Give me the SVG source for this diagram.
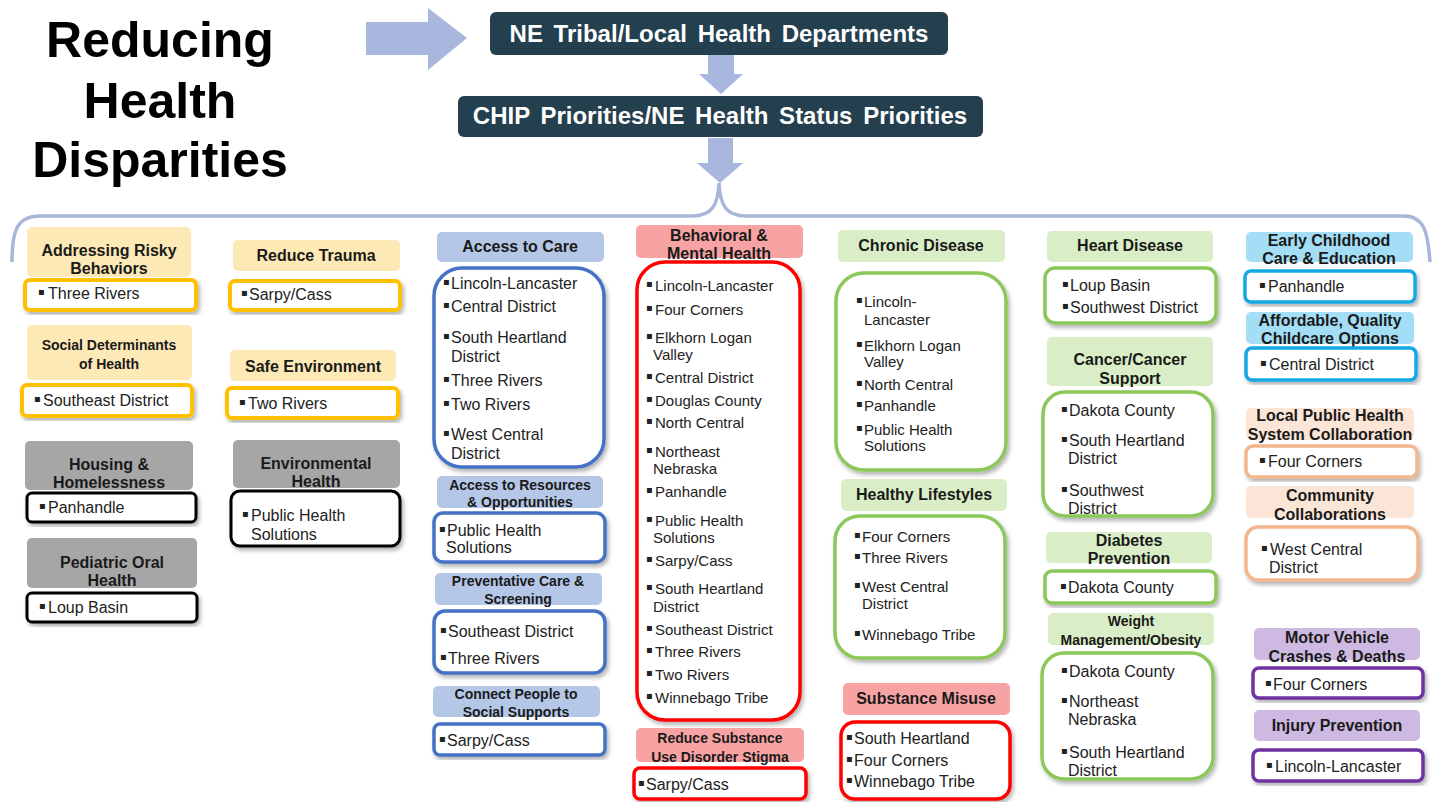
<svg xmlns="http://www.w3.org/2000/svg" width="1438" height="802" viewBox="0 0 1438 802">
<defs>
<filter id="sh" x="-10%" y="-10%" width="125%" height="125%"><feDropShadow dx="2" dy="3" stdDeviation="2" flood-color="#000" flood-opacity="0.3"/></filter>
<style>
text{font-family:"Liberation Sans",Arial,sans-serif}
.h{font-weight:bold;text-anchor:middle;fill:#1a1a1a;font-size:16px}
.hs{font-size:14px}
.i{fill:#222;font-size:16px}
.i15{font-size:15px}
.bl{fill:#222;font-size:10px;font-family:"DejaVu Sans",sans-serif;transform:translateY(-3px)}
.box{fill:#fff;filter:url(#sh)}
.yh{fill:#FDE9B6}.yb{stroke:#FFC000;stroke-width:4}
.gh{fill:#A6A6A6}.kb{stroke:#000;stroke-width:3}
.bh{fill:#B4C7E7}.bb{stroke:#4472C4;stroke-width:3.5}
.rh{fill:#F7A3A3}.rb{stroke:#FF0000;stroke-width:3.5}
.lh{fill:#D9EEC6}.lb{stroke:#8CC75A;stroke-width:3.5}
.ch{fill:#A3DDF6}.cb{stroke:#14A8E3;stroke-width:3.5}
.ph{fill:#FBE5D6}.pb{stroke:#F2B68E;stroke-width:3.5}
.vh{fill:#CDB9E1}.vb{stroke:#7030A0;stroke-width:3.5}
.dk{fill:#243F4E}
.dt{fill:#fff;font-weight:bold;font-size:24px;word-spacing:4px;text-anchor:middle}
.ar{fill:#A9B6DE}
</style>
</defs>
<rect width="1438" height="802" fill="#fff"/>

<g id="title">
<text x="160" y="57" font-size="50" font-weight="bold" text-anchor="middle" fill="#000">Reducing</text>
<text x="160" y="118" font-size="50" font-weight="bold" text-anchor="middle" fill="#000">Health</text>
<text x="160" y="177" font-size="50" font-weight="bold" text-anchor="middle" fill="#000">Disparities</text>
</g>

<g id="connectors">
<polygon class="ar" points="366,22 428,22 428,8 467,38 428,70 428,55 366,55"/>
<polygon class="ar" points="708,55 734,55 734,74 743,74 721,94 699,74 708,74"/>
<polygon class="ar" points="708,138 733,138 733,163 743,163 720,183 697,163 708,163"/>
<path d="M12,262 C12,232 16,216 40,216 L692,216 C712,216 718,205 719,183 C720,205 726,216 746,216 L1404,216 C1424,216 1428,232 1430,262" fill="none" stroke="#A9B6DA" stroke-width="3.5"/>
</g>

<g id="ne-tribal">
<rect class="dk" x="490" y="12" width="458" height="43" rx="6"/>
<text class="dt" x="719" y="42">NE Tribal/Local Health Departments</text>
</g>
<g id="chip">
<rect class="dk" x="458" y="96" width="525" height="41" rx="6"/>
<text class="dt" x="720" y="124">CHIP Priorities/NE Health Status Priorities</text>
</g>

<g id="risky">
<rect class="yh" x="27" y="227" width="164" height="50" rx="5"/>
<text class="h" x="109" y="256">Addressing Risky</text>
<text class="h" x="109" y="274">Behaviors</text>
<rect class="box yb" x="25" y="280" width="171" height="30" rx="5"/>
<text class="bl" x="38" y="298">▪</text><text class="i" x="48" y="299">Three Rivers</text>
</g>

<g id="social">
<rect class="yh" x="27" y="325" width="165" height="55" rx="5"/>
<text class="h hs" x="109" y="350">Social Determinants</text>
<text class="h hs" x="109" y="369">of Health</text>
<rect class="box yb" x="22" y="385" width="170" height="31" rx="5"/>
<text class="bl" x="34" y="405">▪</text><text class="i" x="43" y="406">Southeast District</text>
</g>

<g id="housing">
<rect class="gh" x="25" y="441" width="168" height="49" rx="5"/>
<text class="h" x="109" y="470">Housing &amp;</text>
<text class="h" x="109" y="488">Homelessness</text>
<rect class="box kb" x="27" y="493" width="169" height="29" rx="5"/>
<text class="bl" x="39" y="512">▪</text><text class="i" x="48" y="513">Panhandle</text>
</g>

<g id="oral">
<rect class="gh" x="27" y="538" width="170" height="50" rx="5"/>
<text class="h" x="112" y="568">Pediatric Oral</text>
<text class="h" x="112" y="586">Health</text>
<rect class="box kb" x="27" y="593" width="170" height="29" rx="5"/>
<text class="bl" x="39" y="612">▪</text><text class="i" x="48" y="613">Loup Basin</text>
</g>

<g id="trauma">
<rect class="yh" x="233" y="240" width="167" height="31" rx="5"/>
<text class="h" x="316" y="261">Reduce Trauma</text>
<rect class="box yb" x="230" y="281" width="170" height="29" rx="5"/>
<text class="bl" x="241" y="299">▪</text><text class="i" x="249" y="300">Sarpy/Cass</text>
</g>

<g id="safe">
<rect class="yh" x="230" y="350" width="166" height="31" rx="5"/>
<text class="h" x="313" y="372">Safe Environment</text>
<rect class="box yb" x="227" y="388" width="171" height="30" rx="5"/>
<text class="bl" x="239" y="408">▪</text><text class="i" x="248" y="409">Two Rivers</text>
</g>

<g id="environmental">
<rect class="gh" x="233" y="440" width="167" height="48" rx="5"/>
<text class="h" x="316" y="469">Environmental</text>
<text class="h" x="316" y="487">Health</text>
<rect class="box kb" x="231" y="491" width="169" height="55" rx="9"/>
<text class="bl" x="242" y="520">▪</text><text class="i" x="251" y="521">Public Health</text>
<text class="i" x="251" y="540">Solutions</text>
</g>

<g id="access-care">
<rect class="bh" x="437" y="232" width="167" height="30" rx="5"/>
<text class="h" x="520" y="252">Access to Care</text>
<rect class="box bb" x="434" y="268" width="170" height="199" rx="28"/>
<text class="bl" x="443" y="288">▪</text><text class="i" x="451" y="289">Lincoln-Lancaster</text>
<text class="bl" x="443" y="311">▪</text><text class="i" x="451" y="312">Central District</text>
<text class="bl" x="443" y="342">▪</text><text class="i" x="451" y="343">South Heartland</text>
<text class="i" x="451" y="362">District</text>
<text class="bl" x="443" y="385">▪</text><text class="i" x="451" y="386">Three Rivers</text>
<text class="bl" x="443" y="409">▪</text><text class="i" x="451" y="410">Two Rivers</text>
<text class="bl" x="443" y="439">▪</text><text class="i" x="451" y="440">West Central</text>
<text class="i" x="451" y="459">District</text>
</g>

<g id="access-resources">
<rect class="bh" x="437" y="476" width="166" height="32" rx="5"/>
<text class="h hs" x="520" y="490">Access to Resources</text>
<text class="h hs" x="520" y="507">&amp; Opportunities</text>
<rect class="box bb" x="434" y="513" width="171" height="49" rx="9"/>
<text class="bl" x="439" y="535">▪</text><text class="i" x="447" y="536">Public Health</text>
<text class="i" x="446" y="553">Solutions</text>
</g>

<g id="preventative">
<rect class="bh" x="435" y="573" width="167" height="32" rx="5"/>
<text class="h hs" x="518" y="586">Preventative Care &amp;</text>
<text class="h hs" x="518" y="604">Screening</text>
<rect class="box bb" x="434" y="611" width="171" height="62" rx="11"/>
<text class="bl" x="440" y="636">▪</text><text class="i" x="448" y="637">Southeast District</text>
<text class="bl" x="440" y="663">▪</text><text class="i" x="448" y="664">Three Rivers</text>
</g>

<g id="connect">
<rect class="bh" x="433" y="686" width="167" height="31" rx="5"/>
<text class="h hs" x="516" y="699">Connect People to</text>
<text class="h hs" x="516" y="717">Social Supports</text>
<rect class="box bb" x="434" y="724" width="171" height="31" rx="6"/>
<text class="bl" x="439" y="745">▪</text><text class="i" x="447" y="746">Sarpy/Cass</text>
</g>

<g id="behavioral">
<rect class="rh" x="636" y="225" width="167" height="33" rx="5"/>
<text class="h" x="719" y="241">Behavioral &amp;</text>
<text class="h" x="719" y="259">Mental Health</text>
<rect class="box rb" x="637" y="262" width="163" height="458" rx="28"/>
<text class="bl" x="646" y="290">▪</text><text class="i i15" x="655" y="291">Lincoln-Lancaster</text>
<text class="bl" x="646" y="314">▪</text><text class="i i15" x="655" y="315">Four Corners</text>
<text class="bl" x="646" y="342">▪</text><text class="i i15" x="655" y="343">Elkhorn Logan</text>
<text class="i i15" x="653" y="360">Valley</text>
<text class="bl" x="646" y="382">▪</text><text class="i i15" x="655" y="383">Central District</text>
<text class="bl" x="646" y="405">▪</text><text class="i i15" x="655" y="406">Douglas County</text>
<text class="bl" x="646" y="427">▪</text><text class="i i15" x="655" y="428">North Central</text>
<text class="bl" x="646" y="456">▪</text><text class="i i15" x="655" y="457">Northeast</text>
<text class="i i15" x="653" y="474">Nebraska</text>
<text class="bl" x="646" y="496">▪</text><text class="i i15" x="655" y="497">Panhandle</text>
<text class="bl" x="646" y="525">▪</text><text class="i i15" x="655" y="526">Public Health</text>
<text class="i i15" x="653" y="543">Solutions</text>
<text class="bl" x="646" y="565">▪</text><text class="i i15" x="655" y="566">Sarpy/Cass</text>
<text class="bl" x="646" y="593">▪</text><text class="i i15" x="655" y="594">South Heartland</text>
<text class="i i15" x="653" y="612">District</text>
<text class="bl" x="646" y="634">▪</text><text class="i i15" x="655" y="635">Southeast District</text>
<text class="bl" x="646" y="656">▪</text><text class="i i15" x="655" y="657">Three Rivers</text>
<text class="bl" x="646" y="679">▪</text><text class="i i15" x="655" y="680">Two Rivers</text>
<text class="bl" x="646" y="702">▪</text><text class="i i15" x="655" y="703">Winnebago Tribe</text>
</g>

<g id="stigma">
<rect class="rh" x="636" y="728" width="168" height="34" rx="5"/>
<text class="h hs" x="720" y="743">Reduce Substance</text>
<text class="h hs" x="720" y="762">Use Disorder Stigma</text>
<rect class="box rb" x="634" y="768" width="172" height="31" rx="6"/>
<text class="bl" x="638" y="789">▪</text><text class="i" x="646" y="790">Sarpy/Cass</text>
</g>

<g id="chronic">
<rect class="lh" x="838" y="230" width="167" height="32" rx="5"/>
<text class="h" x="921" y="251">Chronic Disease</text>
<rect class="box lb" x="836" y="273" width="170" height="197" rx="28"/>
<text class="bl" x="856" y="306">▪</text><text class="i i15" x="864" y="307">Lincoln-</text>
<text class="i i15" x="864" y="325">Lancaster</text>
<text class="bl" x="856" y="350">▪</text><text class="i i15" x="864" y="351">Elkhorn Logan</text>
<text class="i i15" x="864" y="367">Valley</text>
<text class="bl" x="856" y="389">▪</text><text class="i i15" x="864" y="390">North Central</text>
<text class="bl" x="856" y="410">▪</text><text class="i i15" x="864" y="411">Panhandle</text>
<text class="bl" x="856" y="434">▪</text><text class="i i15" x="864" y="435">Public Health</text>
<text class="i i15" x="864" y="451">Solutions</text>
</g>

<g id="healthy">
<rect class="lh" x="841" y="479" width="166" height="32" rx="5"/>
<text class="h" x="924" y="500">Healthy Lifestyles</text>
<rect class="box lb" x="835" y="516" width="170" height="142" rx="25"/>
<text class="bl" x="854" y="541">▪</text><text class="i i15" x="862" y="542">Four Corners</text>
<text class="bl" x="854" y="562">▪</text><text class="i i15" x="862" y="563">Three Rivers</text>
<text class="bl" x="854" y="591">▪</text><text class="i i15" x="862" y="592">West Central</text>
<text class="i i15" x="862" y="609">District</text>
<text class="bl" x="854" y="639">▪</text><text class="i i15" x="862" y="640">Winnebago Tribe</text>
</g>

<g id="substance">
<rect class="rh" x="843" y="683" width="167" height="32" rx="5"/>
<text class="h" x="926" y="704">Substance Misuse</text>
<rect class="box rb" x="841" y="722" width="169" height="77" rx="14"/>
<text class="bl" x="846" y="743">▪</text><text class="i" x="854" y="744">South Heartland</text>
<text class="bl" x="846" y="765">▪</text><text class="i" x="854" y="766">Four Corners</text>
<text class="bl" x="846" y="786">▪</text><text class="i" x="854" y="787">Winnebago Tribe</text>
</g>

<g id="heart">
<rect class="lh" x="1047" y="231" width="166" height="31" rx="5"/>
<text class="h" x="1130" y="251">Heart Disease</text>
<rect class="box lb" x="1045" y="268" width="171" height="55" rx="10"/>
<text class="bl" x="1062" y="290">▪</text><text class="i" x="1070" y="291">Loup Basin</text>
<text class="bl" x="1062" y="312">▪</text><text class="i" x="1070" y="313">Southwest District</text>
</g>

<g id="cancer">
<rect class="lh" x="1047" y="337" width="166" height="49" rx="5"/>
<text class="h" x="1130" y="365">Cancer/Cancer</text>
<text class="h" x="1130" y="384">Support</text>
<rect class="box lb" x="1043" y="392" width="170" height="124" rx="22"/>
<text class="bl" x="1061" y="415">▪</text><text class="i" x="1069" y="416">Dakota County</text>
<text class="bl" x="1061" y="445">▪</text><text class="i" x="1069" y="446">South Heartland</text>
<text class="i" x="1068" y="464">District</text>
<text class="bl" x="1061" y="495">▪</text><text class="i" x="1069" y="496">Southwest</text>
<text class="i" x="1068" y="514">District</text>
</g>

<g id="diabetes">
<rect class="lh" x="1046" y="532" width="166" height="31" rx="5"/>
<text class="h" x="1129" y="546">Diabetes</text>
<text class="h" x="1129" y="564">Prevention</text>
<rect class="box lb" x="1045" y="571" width="171" height="32" rx="7"/>
<text class="bl" x="1060" y="592">▪</text><text class="i" x="1068" y="593">Dakota County</text>
</g>

<g id="weight">
<rect class="lh" x="1048" y="613" width="166" height="32" rx="5"/>
<text class="h hs" x="1131" y="626">Weight</text>
<text class="h hs" x="1131" y="645">Management/Obesity</text>
<rect class="box lb" x="1042" y="653" width="171" height="126" rx="22"/>
<text class="bl" x="1061" y="676">▪</text><text class="i" x="1069" y="677">Dakota County</text>
<text class="bl" x="1061" y="706">▪</text><text class="i" x="1069" y="707">Northeast</text>
<text class="i" x="1068" y="725">Nebraska</text>
<text class="bl" x="1061" y="757">▪</text><text class="i" x="1069" y="758">South Heartland</text>
<text class="i" x="1068" y="776">District</text>
</g>

<g id="early-childhood">
<rect class="ch" x="1246" y="232" width="167" height="30" rx="5"/>
<text class="h" x="1329" y="246">Early Childhood</text>
<text class="h" x="1329" y="264">Care &amp; Education</text>
<rect class="box cb" x="1245" y="271" width="170" height="31" rx="6"/>
<text class="bl" x="1259" y="291">▪</text><text class="i" x="1268" y="292">Panhandle</text>
</g>

<g id="childcare">
<rect class="ch" x="1246" y="312" width="168" height="32" rx="5"/>
<text class="h" x="1330" y="326" font-size="15">Affordable, Quality</text>
<text class="h" x="1330" y="344" font-size="15">Childcare Options</text>
<rect class="box cb" x="1246" y="348" width="170" height="32" rx="6"/>
<text class="bl" x="1260" y="369">▪</text><text class="i" x="1269" y="370">Central District</text>
</g>

<g id="local-system">
<rect class="ph" x="1246" y="408" width="168" height="32" rx="5"/>
<text class="h" x="1330" y="421" font-size="13.5">Local Public Health</text>
<text class="h" x="1330" y="440" font-size="13.5">System Collaboration</text>
<rect class="box pb" x="1246" y="446" width="171" height="31" rx="7"/>
<text class="bl" x="1259" y="466">▪</text><text class="i" x="1268" y="467">Four Corners</text>
</g>

<g id="community">
<rect class="ph" x="1246" y="486" width="168" height="32" rx="5"/>
<text class="h" x="1330" y="501">Community</text>
<text class="h" x="1330" y="520">Collaborations</text>
<rect class="box pb" x="1246" y="527" width="172" height="53" rx="12"/>
<text class="bl" x="1261" y="554">▪</text><text class="i" x="1270" y="555">West Central</text>
<text class="i" x="1269" y="573">District</text>
</g>

<g id="motor-vehicle">
<rect class="vh" x="1254" y="628" width="166" height="32" rx="5"/>
<text class="h" x="1337" y="643">Motor Vehicle</text>
<text class="h" x="1337" y="662">Crashes &amp; Deaths</text>
<rect class="box vb" x="1253" y="668" width="170" height="30" rx="6"/>
<text class="bl" x="1265" y="689">▪</text><text class="i" x="1273" y="690">Four Corners</text>
</g>

<g id="injury">
<rect class="vh" x="1254" y="710" width="166" height="31" rx="5"/>
<text class="h" x="1337" y="731">Injury Prevention</text>
<rect class="box vb" x="1253" y="750" width="170" height="31" rx="6"/>
<text class="bl" x="1266" y="771">▪</text><text class="i" x="1275" y="772">Lincoln-Lancaster</text>
</g>
</svg>
